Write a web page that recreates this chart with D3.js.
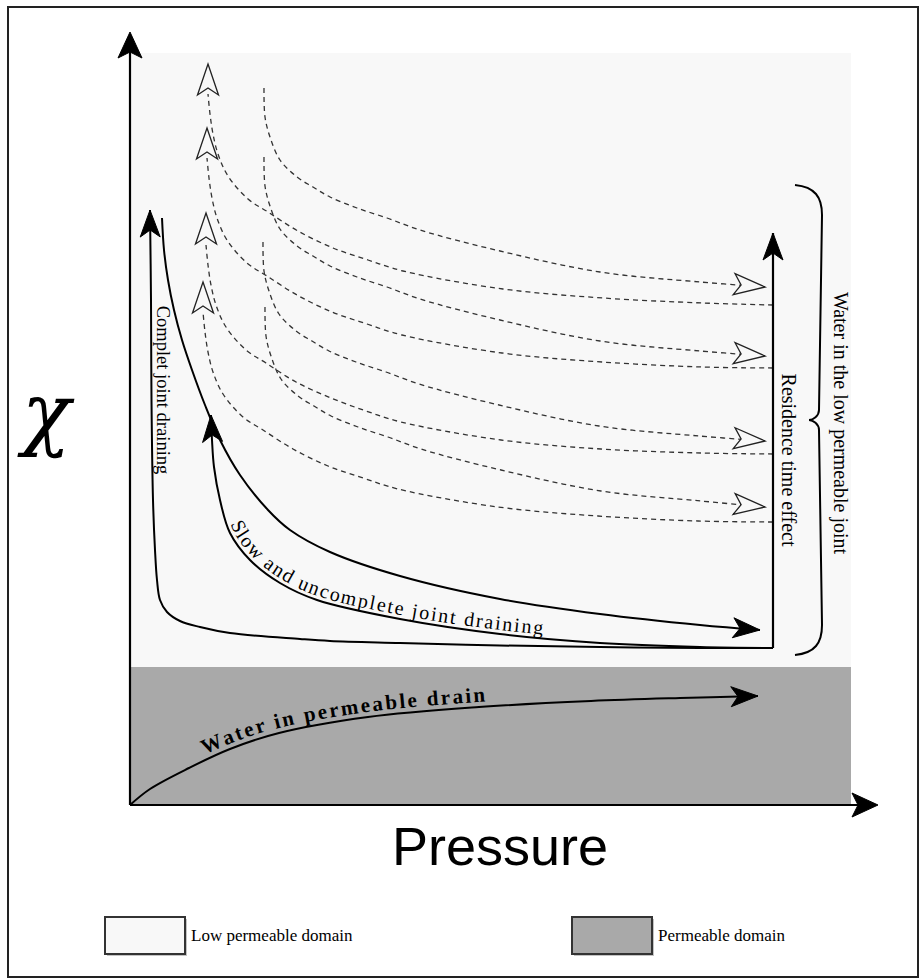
<!DOCTYPE html>
<html><head><meta charset="utf-8">
<script src="https://cdn.jsdelivr.net/npm/d3@7"></script>
<style>html,body{margin:0;padding:0;background:#fff;} svg{display:block}</style>
</head><body>
<svg id="chart" width="924" height="979"></svg>
<script>
// ---------- data (x = pressure units, y = chi units) ----------
const axisXLabel = "Pressure";
const axisYLabel = "χ";
const domainLabels = ["Low permeable domain", "Permeable domain"];
const lowDomainRange = [13.8, 75.2];     // chi extent of low permeable domain
const permDomainRange = [0, 13.8];       // chi extent of permeable domain
const pressureExtent = [0, 72.1];

const completeDraining = [[64.3,15.7],[57.0,15.7],[47.0,15.8],[37.0,15.95],[27.0,16.2],[20.0,16.4],[17.0,16.6],[10.0,17.2],[7.0,17.8],[5.0,18.4],[3.7,19.3],[3.0,20.5],[2.7,22.5],[2.5,25.5],[2.3,30.5],[2.15,40.5],[2.1,50.5],[2.0,59.5]];
const slowDrainingDown = [[3.2,58.7],[3.4,55.5],[3.8,52.5],[4.4,49.5],[5.2,46.5],[6.2,43.5],[7.5,40.0],[9.0,36.5],[11.0,33.0],[13.8,29.5],[16.0,27.5],[20.0,25.3],[27.0,22.9],[37.0,20.6],[47.0,19.1],[57.0,18.0],[63.0,17.5]];
const slowDrainingUp = [[64.3,15.7],[57.0,15.8],[47.0,16.2],[37.0,17.1],[27.0,18.6],[18.7,20.5],[15.0,22.2],[12.0,24.5],[10.0,27.2],[9.0,30.5],[8.4,33.8],[8.2,36.5],[8.1,39.0]];
const residenceTime = [[64.3,15.7],[64.3,57.2]];
const drainWater = [[0,0],[2.0,1.6],[5.9,3.7],[10,5.6],[14.9,7.2],[23.8,8.8],[34.9,9.8],[46.1,10.4],[55,10.7],[62.8,10.9]];

// dashed cycles: "return" curves ending in up arrows (tip given separately)
const returnCurves = [
  [[64.3,50.0],[57.3,50.2],[47.3,50.7],[37.3,51.6],[27.3,53.4],[23.8,54.5],[20.3,55.7],[16.8,57.4],[13.8,59.3],[11.8,60.6],[9.8,62.9],[8.8,65.1],[8.3,67.1],[8.0,69.1],[7.8,71.1]],
  [[64.3,43.7],[57.2,43.8],[47.2,44.3],[37.2,45.2],[27.2,47.0],[23.7,48.1],[20.2,49.3],[16.7,51.0],[13.7,52.9],[11.7,54.2],[9.7,56.5],[8.7,58.7],[8.2,60.7],[7.9,62.7],[7.7,64.7]],
  [[64.3,35.1],[57.1,35.2],[47.1,35.6],[37.1,36.5],[27.1,38.3],[23.6,39.4],[20.1,40.7],[16.6,42.3],[13.6,44.2],[11.6,45.5],[9.6,47.8],[8.6,50.0],[8.1,52.0],[7.8,54.0],[7.6,56.0]],
  [[64.3,28.3],[56.8,28.4],[46.8,28.9],[36.8,29.8],[26.8,31.6],[23.3,32.7],[19.8,33.9],[16.3,35.6],[13.3,37.5],[11.3,38.8],[9.3,41.1],[8.3,43.3],[7.8,45.3],[7.5,47.3],[7.3,49.3]]
];
const returnTips = [[7.8,74.1],[7.7,67.7],[7.6,59.2],[7.3,52.3]];
// dashed "residence" curves ending in right arrows (last point = tip)
const residenceCurves = [
  [[13.4,71.7],[13.5,68.8],[14.0,66.8],[15.0,64.5],[16.7,62.8],[18.3,61.8],[20.0,60.8],[22.7,59.7],[25.7,58.7],[29.0,57.5],[37.0,55.4],[47.0,53.3],[57.0,52.3],[63.5,51.8]],
  [[13.4,64.8],[13.5,61.9],[14.0,59.9],[15.0,57.6],[16.7,55.9],[18.3,54.9],[20.0,53.9],[22.7,52.8],[25.7,51.8],[29.0,50.6],[37.0,48.5],[47.0,46.4],[57.0,45.4],[63.5,44.9]],
  [[13.3,56.3],[13.4,53.4],[13.9,51.4],[14.9,49.1],[16.6,47.4],[18.2,46.4],[19.9,45.4],[22.6,44.3],[25.6,43.3],[28.9,42.1],[36.9,40.0],[46.9,37.9],[56.9,36.9],[63.5,36.4]],
  [[13.5,49.8],[13.6,46.9],[14.1,44.9],[15.1,42.6],[16.8,40.9],[18.4,39.9],[20.1,38.9],[22.8,37.8],[25.8,36.8],[29.1,35.6],[37.1,33.5],[47.1,31.4],[57.1,30.4],[63.5,29.8]]
];
const braceSpan = [15.0, 62.0];   // chi extent of "Water in the low permeable joint"

// ---------- drawing ----------
const svg = d3.select("#chart");
const x = d3.scaleLinear().domain(pressureExtent).range([130, 851]);
const y = d3.scaleLinear().domain([0, 75.5]).range([805, 50]);
const LIGHT = "#f8f8f8", GRAY = "#a9a9a9";
const serif = "'Liberation Serif','Times New Roman',serif";

svg.append("rect").attr("x",8).attr("y",7).attr("width",910).attr("height",970)
  .attr("fill","#fff").attr("stroke","#222").attr("stroke-width",2);

svg.append("rect").attr("x",x(0)).attr("y",y(lowDomainRange[1]))
  .attr("width",x(pressureExtent[1])-x(0)).attr("height",y(lowDomainRange[0])-y(lowDomainRange[1]))
  .attr("fill",LIGHT);
svg.append("rect").attr("x",x(0)).attr("y",y(permDomainRange[1]))
  .attr("width",x(pressureExtent[1])-x(0)).attr("height",y(permDomainRange[0])-y(permDomainRange[1]))
  .attr("fill",GRAY);

const line = d3.line().x(d=>x(d[0])).y(d=>y(d[1])).curve(d3.curveCatmullRom.alpha(0.5));
const straight = d3.line().x(d=>x(d[0])).y(d=>y(d[1]));

function arrowHead(tip, from, o){
  const tx=x(tip[0]), ty=y(tip[1]), fx=x(from[0]), fy=y(from[1]);
  let ux=tx-fx, uy=ty-fy; const L=Math.hypot(ux,uy); ux/=L; uy/=L;
  const nx=-uy, ny=ux;
  const bx=tx-o.len*ux, by=ty-o.len*uy;
  const p=[[tx,ty],[bx+o.hw*nx,by+o.hw*ny],[tx-(o.len-o.notch)*ux,ty-(o.len-o.notch)*uy],[bx-o.hw*nx,by-o.hw*ny]];
  svg.append("path").attr("d","M"+p.map(q=>q.join(",")).join("L")+"Z")
    .attr("fill",o.fill).attr("stroke",o.stroke).attr("stroke-width",o.sw||1).attr("stroke-linejoin","miter");
}
const solidHead = {len:27, hw:10, notch:7, fill:"#000", stroke:"#000", sw:1};
const openHead = {len:31, hw:10.5, notch:7, fill:LIGHT, stroke:"#222", sw:1.3};

// axes
const yTop = y.invert(32), xEnd = x.invert(878);
svg.append("path").attr("d",straight([[0,0],[0,yTop-2]])).attr("stroke","#000").attr("stroke-width",2.2).attr("fill","none");
arrowHead([0,yTop],[0,0],{len:26,hw:12,notch:6,fill:"#000",stroke:"#000"});
svg.append("path").attr("d",straight([[0,0],[xEnd-2,0]])).attr("stroke","#000").attr("stroke-width",2.2).attr("fill","none");
arrowHead([xEnd,0],[0,0],{len:26,hw:12,notch:6,fill:"#000",stroke:"#000"});

// dashed curves
returnCurves.forEach((c,i)=>{
  svg.append("path").attr("d",line(c)).attr("fill","none").attr("stroke","#333")
    .attr("stroke-width",1.3).attr("stroke-dasharray","5,4");
  arrowHead(returnTips[i], c[c.length-1], openHead);
});
residenceCurves.forEach(c=>{
  svg.append("path").attr("d",line(c)).attr("fill","none").attr("stroke","#333")
    .attr("stroke-width",1.3).attr("stroke-dasharray","5,4");
  arrowHead(c[c.length-1], c[c.length-3], openHead);
});

// solid curves
function solid(data, w){
  return svg.append("path").attr("d",line(data)).attr("fill","none").attr("stroke","#000").attr("stroke-width",w||2);
}
solid(completeDraining);
arrowHead(completeDraining[completeDraining.length-1], completeDraining[completeDraining.length-3], solidHead);
solid(slowDrainingDown);
arrowHead(slowDrainingDown[slowDrainingDown.length-1], slowDrainingDown[slowDrainingDown.length-2], solidHead);
solid(slowDrainingUp);
arrowHead(slowDrainingUp[slowDrainingUp.length-1], slowDrainingUp[slowDrainingUp.length-3], solidHead);
svg.append("path").attr("d",straight(residenceTime)).attr("stroke","#000").attr("stroke-width",2.2).attr("fill","none");
arrowHead(residenceTime[1], residenceTime[0], solidHead);
solid(drainWater);
arrowHead(drainWater[drainWater.length-1], drainWater[drainWater.length-2], solidHead);

// text paths
const defs = svg.append("defs");
defs.append("path").attr("id","slowPath").attr("d", line(slowDrainingUp.slice().reverse()));
defs.append("path").attr("id","drainPath").attr("d", line(drainWater));
svg.append("text").attr("font-family",serif).attr("font-size",20).attr("letter-spacing",1.9).attr("dy",-4)
  .append("textPath").attr("href","#slowPath").attr("startOffset",112).text("Slow and uncomplete joint draining");
svg.append("text").attr("font-family",serif).attr("font-size",21).attr("font-weight","bold").attr("letter-spacing",2.3).attr("dy",-5)
  .append("textPath").attr("href","#drainPath").attr("startOffset",90).text("Water in permeable drain");

// rotated labels
function vlabel(px, py, size, txt){
  svg.append("text").attr("transform",`translate(${px},${py}) rotate(90)`).attr("text-anchor","middle")
    .attr("font-family",serif).attr("font-size",size).text(txt);
}
vlabel(157, 390, 18.5, "Complet joint draining");
vlabel(782, 460, 20, "Residence time effect");
vlabel(834, 423, 20, "Water in the low permeable joint");

// brace
const bx0 = x(66.5), by0 = y(braceSpan[1]), by1 = y(braceSpan[0]);
const bm = (by0+by1)/2;
const braceD = `M${bx0},${by0} C${bx0+20},${by0+2} ${bx0+27},${by0+12} ${bx0+27},${by0+30}
 L${bx0+24},${bm-10} C${bx0+24},${bm-4} ${bx0+18},${bm} ${bx0+14},${bm}
 C${bx0+18},${bm} ${bx0+24},${bm+4} ${bx0+24},${bm+10}
 L${bx0+27},${by1-30} C${bx0+27},${by1-12} ${bx0+20},${by1-2} ${bx0},${by1}`;
svg.append("path").attr("d",braceD).attr("fill","none").attr("stroke","#000").attr("stroke-width",2);

// axis labels
svg.append("text").attr("x",500).attr("y",865).attr("text-anchor","middle")
  .attr("font-family","'Liberation Sans',Arial,sans-serif").attr("font-size",54).text(axisXLabel);
svg.append("text").attr("x",22).attr("y",440).attr("font-family","'DejaVu Serif',serif").attr("font-style","italic")
  .attr("font-size",80).text(axisYLabel);

// legend
const legX = [105, 572], legFill=[LIGHT, GRAY];
domainLabels.forEach((lab,i)=>{
  svg.append("rect").attr("x",legX[i]+2).attr("y",919).attr("width",80).attr("height",37).attr("fill","#888").attr("opacity",0.5);
  svg.append("rect").attr("x",legX[i]).attr("y",917).attr("width",80).attr("height",37)
    .attr("fill",legFill[i]).attr("stroke","#333").attr("stroke-width",2);
  svg.append("text").attr("x",legX[i]+86).attr("y",941).attr("font-family",serif).attr("font-size",17).text(lab);
});
</script>
</body></html>
